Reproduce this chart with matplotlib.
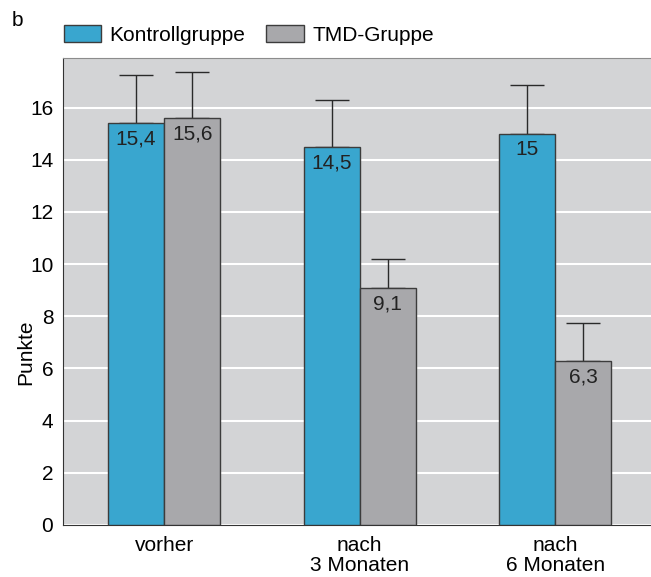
import matplotlib.pyplot as plt
from matplotlib.patches import Patch
import numpy as np

# Werte je Zeitpunkt
zeitpunkte = ['vorher', 'nach\n3 Monaten', 'nach\n6 Monaten']
kontroll = [15.4, 14.5, 15.0]
tmd = [15.6, 9.1, 6.3]
kontroll_fehler = [1.85, 1.8, 1.85]
tmd_fehler = [1.75, 1.1, 1.45]
kontroll_text = ['15,4', '14,5', '15']
tmd_text = ['15,6', '9,1', '6,3']

blau = '#39a6cf'
grau = '#a8a8ab'
hintergrund = '#d3d4d6'

plt.rcParams['font.family'] = ['Liberation Sans', 'DejaVu Sans']
fs = 15

fig = plt.figure(figsize=(6.51, 5.77), dpi=100)
ax = fig.add_axes([63 / 651, 1 - 525 / 577, 1 - 63 / 651, (525 - 58) / 577])
ax.set_facecolor(hintergrund)

x = np.arange(len(zeitpunkte))
breite = 0.287

b1 = ax.bar(x - breite / 2, kontroll, breite, color=blau, edgecolor='#3c3c3c', linewidth=1, zorder=3)
b2 = ax.bar(x + breite / 2, tmd, breite, color=grau, edgecolor='#3c3c3c', linewidth=1, zorder=3)

# Fehlerbalken nur nach oben
ax.errorbar(x - breite / 2, kontroll, yerr=[np.zeros(3), kontroll_fehler], fmt='none',
            ecolor='#2a2a2a', elinewidth=1, capsize=12, capthick=1, zorder=2)
ax.errorbar(x + breite / 2, tmd, yerr=[np.zeros(3), tmd_fehler], fmt='none',
            ecolor='#2a2a2a', elinewidth=1, capsize=12, capthick=1, zorder=2)

for bars, texte in ((b1, kontroll_text), (b2, tmd_text)):
    for bar, t in zip(bars, texte):
        ax.text(bar.get_x() + bar.get_width() / 2, bar.get_height() - 0.25, t,
                ha='center', va='top', fontsize=fs, color='#222222', zorder=4)

ax.set_xlim(-0.517, 2.49)
ax.set_ylim(0, 17.9)
ax.set_yticks(range(0, 17, 2))
ax.set_xticks(x)
ax.set_xticklabels(zeitpunkte, fontsize=fs, linespacing=1.05)
ax.tick_params(axis='y', labelsize=fs, length=0, pad=7)
ax.tick_params(axis='x', length=0, pad=8)
ax.yaxis.grid(True, color='white', linewidth=1.5, zorder=0)
ax.set_axisbelow(True)

ax.spines['left'].set_color('#333333')
ax.spines['bottom'].set_color('#333333')
ax.spines['top'].set_color('#8c8c8c')
ax.spines['right'].set_visible(False)

ax.set_ylabel('Punkte', fontsize=fs)
ax.yaxis.set_label_coords(-0.048, 0.37)

handles = [Patch(facecolor=blau, edgecolor='#3c3c3c', label='Kontrollgruppe'),
           Patch(facecolor=grau, edgecolor='#3c3c3c', label='TMD-Gruppe')]
fig.legend(handles=handles, loc='upper left', bbox_to_anchor=(45 / 651, 1 - 6 / 577), ncol=2,
           frameon=False, fontsize=fs, handlelength=1.8, handleheight=0.9, columnspacing=1.0,
           handletextpad=0.4)

fig.text(12 / 651, 1 - 20 / 577, 'b', fontsize=fs, va='center')

fig.savefig('out.png', dpi=100)
